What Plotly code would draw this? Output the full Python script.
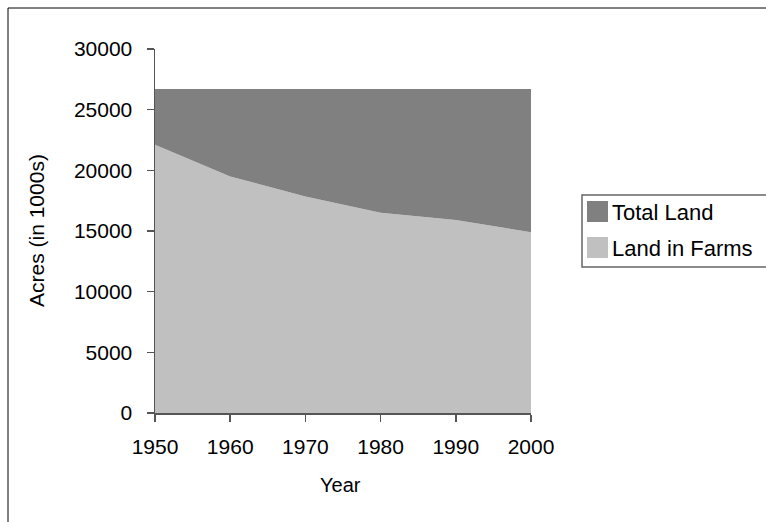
import plotly.graph_objects as go

years = [1950, 1960, 1970, 1980, 1990, 2000]
total_land = [26700, 26700, 26700, 26700, 26700, 26700]
land_in_farms = [22100, 19500, 17850, 16500, 15900, 14900]
series_names = ["Total Land", "Land in Farms"]
series_colors = ["#808080", "#C0C0C0"]
y_ticks = [0, 5000, 10000, 15000, 20000, 25000, 30000]

W, H = 766, 522
L, R, T, B = 155, 235, 49, 109
PW, PH = W - L - R, H - T - B


def px_x(p):
    return (p - L) / PW


def px_y(p):
    return (H - B - p) / PH


FONT = "Arial, Liberation Sans, sans-serif"

fig = go.Figure()
fig.add_trace(go.Scatter(
    x=years, y=land_in_farms, name=series_names[1], mode="lines",
    line=dict(width=0, color=series_colors[1]), fill="tozeroy",
    fillcolor=series_colors[1], showlegend=False, hoverinfo="skip"))
fig.add_trace(go.Scatter(
    x=years, y=total_land, name=series_names[0], mode="lines",
    line=dict(width=0, color=series_colors[0]), fill="tonexty",
    fillcolor=series_colors[0], showlegend=False, hoverinfo="skip"))

shapes = []
annotations = []

# outer chart border
shapes.append(dict(type="rect", xref="paper", yref="paper",
                   x0=px_x(8), x1=px_x(W + 20), y0=px_y(H + 20), y1=px_y(8),
                   line=dict(color="#000000", width=1), fillcolor="rgba(0,0,0,0)"))

# legend box
shapes.append(dict(type="rect", xref="paper", yref="paper",
                   x0=px_x(582), x1=px_x(W + 20), y0=px_y(267), y1=px_y(195),
                   line=dict(color="#666666", width=1.5), fillcolor="white"))
sq_tops = [201, 237]
for name, col, top in zip(series_names, series_colors, sq_tops):
    shapes.append(dict(type="rect", xref="paper", yref="paper",
                       x0=px_x(587), x1=px_x(608), y0=px_y(top + 21), y1=px_y(top),
                       line=dict(width=0), fillcolor=col))
    annotations.append(dict(text=name, xref="paper", yref="paper",
                            x=px_x(610), y=px_y(top + 11), xanchor="left",
                            yanchor="middle", showarrow=False,
                            font=dict(family=FONT, size=22, color="#000")))

# axis titles
annotations.append(dict(text="Year", xref="paper", yref="paper", x=px_x(340),
                        y=px_y(485), xanchor="center", yanchor="middle",
                        showarrow=False, font=dict(family=FONT, size=20, color="#000")))
annotations.append(dict(text="Acres (in 1000s)", xref="paper", yref="paper",
                        x=px_x(36), y=px_y(231), xanchor="center", yanchor="middle",
                        textangle=-90, showarrow=False,
                        font=dict(family=FONT, size=21, color="#000")))

fig.update_layout(
    width=W, height=H,
    margin=dict(l=L, r=R, t=T, b=B, pad=0),
    paper_bgcolor="white", plot_bgcolor="white",
    showlegend=False, hovermode=False,
    shapes=shapes, annotations=annotations,
    font=dict(family=FONT, size=21, color="#000"),
    xaxis=dict(range=[1950, 2000], tickvals=years, ticktext=[str(y) for y in years],
               showgrid=False, zeroline=False, showline=True, linecolor="#555555",
               linewidth=1.5, ticks="outside", ticklen=7, tickcolor="#555555",
               tickwidth=1.5, ticklabelstandoff=7,
               tickfont=dict(family=FONT, size=21, color="#000")),
    yaxis=dict(range=[0, 30000], tickvals=y_ticks, ticktext=[str(v) for v in y_ticks],
               showgrid=False, zeroline=False, showline=True, linecolor="#555555",
               linewidth=1.5, ticks="outside", ticklen=7, tickcolor="#555555",
               tickwidth=1.5, ticklabelstandoff=10,
               tickfont=dict(family=FONT, size=21, color="#000")),
)

fig.write_html("out.html", config={"displayModeBar": False, "staticPlot": True},
               post_script="document.body.style.margin='0';document.body.style.overflow='hidden';")
